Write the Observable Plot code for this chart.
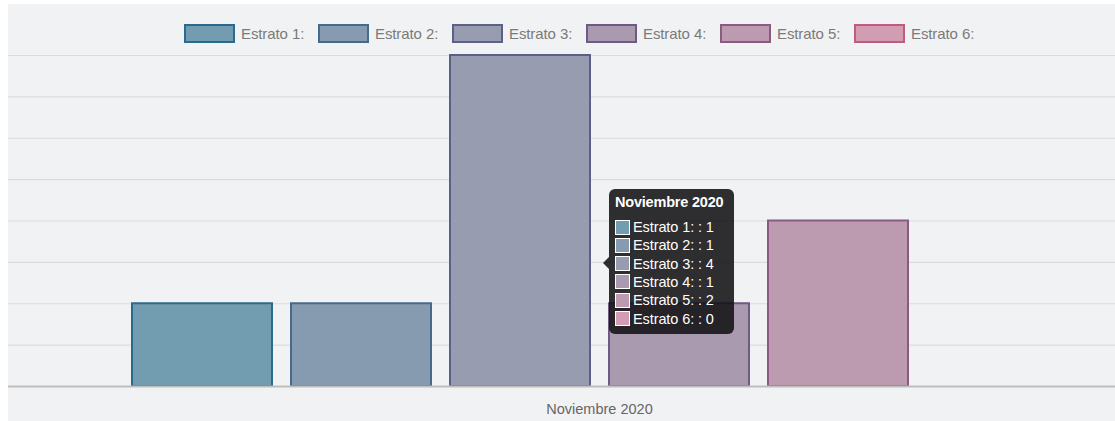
<!DOCTYPE html>
<html>
<head>
<meta charset="utf-8">
<script src="https://cdn.jsdelivr.net/npm/d3@7"></script>
<script src="https://cdn.jsdelivr.net/npm/@observablehq/plot@0.6"></script>
<style>
  body { margin: 0; background: #ffffff; font-family: "Liberation Sans", Arial, sans-serif; }
  #wrap { position: absolute; left: 8px; top: 4px; width: 1107px; height: 417px; background: #f1f2f4; }
  #legend { position: relative; height: 46px; }
  .item { position: absolute; top: 20px; height: 19px; display: flex; align-items: center; }
  .box { width: 47px; height: 15px; border: 2px solid; margin-right: 6px; }
  .lab { font-size: 15px; color: #7a7a7a; letter-spacing: -0.1px; }
  #chart svg { display: block; }
  #tip { position: absolute; left: 609px; top: 189px; width: 125px; height: 145px; background: rgba(18,18,20,0.88); border-radius: 6px; color: #fff; }
  #tip .caret { position: absolute; left: -6px; top: 68px; width: 0; height: 0; border-top: 6px solid transparent; border-bottom: 6px solid transparent; border-right: 6px solid rgba(18,18,20,0.88); }
  #tip .title { position: absolute; left: 6px; top: 5px; font-weight: bold; font-size: 14.5px; letter-spacing: -0.2px; }
  #tip .row { position: absolute; left: 6px; height: 16px; display: flex; align-items: center; font-size: 14.5px; letter-spacing: -0.1px; }
  #tip .sw { width: 13px; height: 13px; border: 1px solid #fff; margin-right: 3px; }
</style>
</head>
<body>
<div id="wrap">
  <div id="legend"></div>
  <div id="chart"></div>
</div>
<div id="tip"></div>
<script>
const categories = ["Noviembre 2020"];
const series = ["Estrato 1:", "Estrato 2:", "Estrato 3:", "Estrato 4:", "Estrato 5:", "Estrato 6:"];
const values = [1, 1, 4, 1, 2, 0];
const fills = ["#729cb0", "#869bb0", "#979cb1", "#a99aaf", "#bc9ab0", "#d29cb2"];
const strokes = ["#2b6a8d", "#466a8c", "#5c6089", "#6e5a85", "#8a5a82", "#c05a80"];
const yTicks = [0, 0.5, 1, 1.5, 2, 2.5, 3, 3.5, 4];

const data = series.map((s, i) => ({serie: s, value: values[i], fill: fills[i], stroke: strokes[i], month: categories[0]}));

// Legend
const legend = document.getElementById("legend");
series.forEach((s, i) => {
  const it = document.createElement("div");
  it.className = "item";
  it.style.left = (176 + i * 134) + "px";
  const b = document.createElement("div");
  b.className = "box";
  b.style.background = fills[i];
  b.style.borderColor = strokes[i];
  const l = document.createElement("span");
  l.className = "lab";
  l.textContent = s;
  it.appendChild(b); it.appendChild(l);
  legend.appendChild(it);
});

const W = 1107, H = 371;
const chart = Plot.plot({
  width: W,
  height: H,
  marginTop: 5,
  marginBottom: 35,
  marginLeft: 0,
  marginRight: 0,
  style: {background: "transparent", fontFamily: "Liberation Sans, Arial, sans-serif"},
  x: {domain: series, range: [121, 1061], paddingInner: 0.107, paddingOuter: 0, axis: null},
  y: {domain: [0, 4], axis: null},
  marks: [
    Plot.ruleY(yTicks.filter(t => t > 0), {stroke: "#dadbde", strokeWidth: 1.2}),
    Plot.barY(data.filter(d => d.value > 0), {x: "serie", y: "value", fill: "fill", stroke: "stroke", strokeWidth: 2, insetLeft: 1, insetRight: 1}),
    Plot.ruleY([0], {stroke: "#bdbdbd", strokeWidth: 2}),
    Plot.text(categories, {frameAnchor: "bottom", dx: 37.5, dy: 27, fill: "#666", fontSize: 14.5, text: d => d})
  ]
});
document.getElementById("chart").appendChild(chart);

// Tooltip
const tip = document.getElementById("tip");
tip.innerHTML = '<div class="caret"></div>';
const t = document.createElement("div");
t.className = "title";
t.textContent = categories[0];
tip.appendChild(t);
series.forEach((s, i) => {
  const r = document.createElement("div");
  r.className = "row";
  r.style.top = (30 + i * 18.3) + "px";
  const sw = document.createElement("div");
  sw.className = "sw";
  sw.style.background = fills[i];
  const tx = document.createElement("span");
  tx.textContent = s + " : " + values[i];
  r.appendChild(sw); r.appendChild(tx);
  tip.appendChild(r);
});
</script>
</body>
</html>
